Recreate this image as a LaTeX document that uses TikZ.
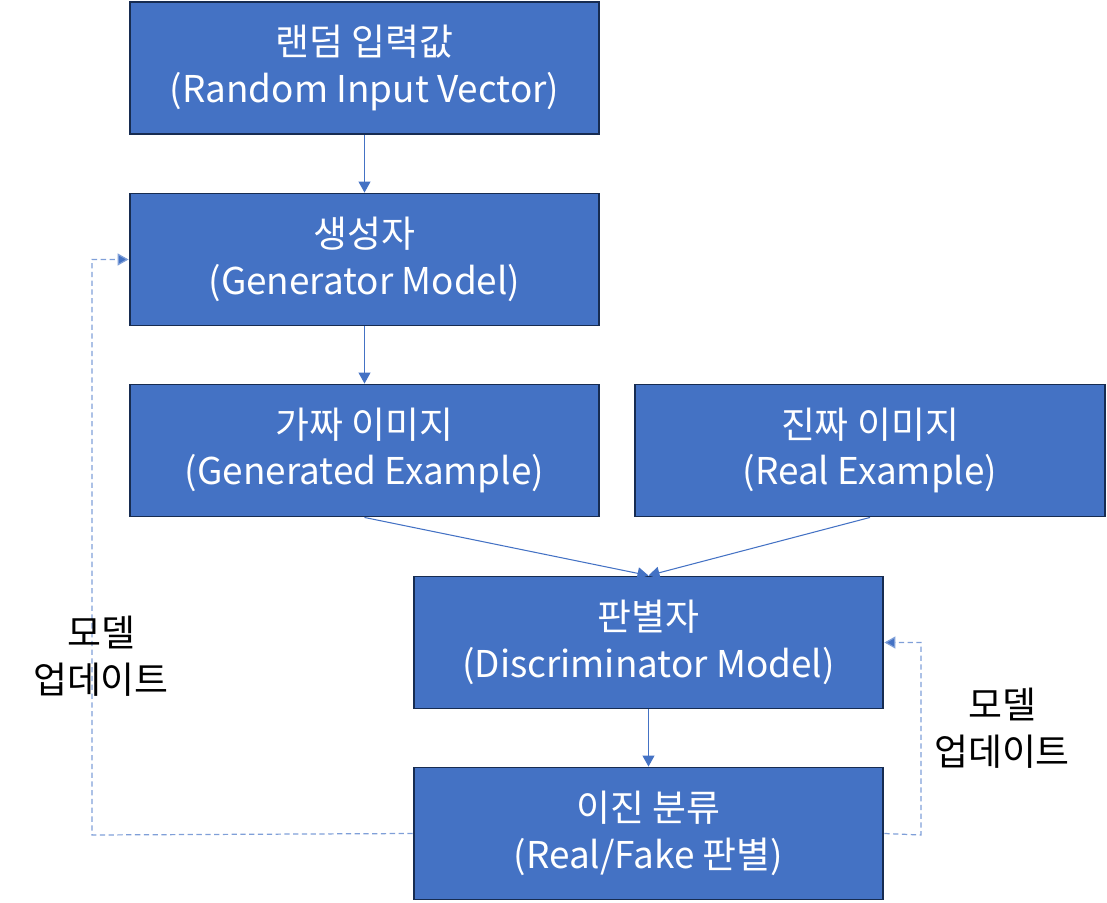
\documentclass[tikz,border=0pt]{standalone}
\usepackage{fontspec}
\setmainfont{Noto Sans CJK KR}
\usetikzlibrary{arrows.meta}
\definecolor{boxblue}{HTML}{4472C4}
\definecolor{boxline}{HTML}{172C51}
\definecolor{dashblue}{HTML}{7F9FD8}
\tikzset{
  stagebox/.style={rectangle, draw=boxline, line width=1.1pt, fill=boxblue,
    text=white, minimum width=9.4cm, minimum height=2.64cm, align=center,
    font=\fontsize{21}{26.5}\selectfont, inner sep=0pt},
  flow/.style={draw=boxblue, line width=0.6pt, -{Triangle[length=0.22cm, width=0.24cm]}},
  feedback/.style={draw=dashblue, line width=0.7pt, dash pattern=on 3pt off 2pt,
    -{Triangle[length=0.22cm, width=0.24cm, fill=boxblue]}},
  note/.style={align=center, font=\fontsize{21}{26.5}\selectfont, inner sep=0pt}
}
\begin{document}
\begin{tikzpicture}[x=0.02cm, y=-0.02cm]
  \useasboundingbox (0,0) rectangle (1107,903);

  % Boxes
  \node[stagebox] (input) at (364.5,68) {랜덤 입력값\\(Random Input Vector)};
  \node[stagebox] (gen) at (364.5,259.5) {생성자\\(Generator Model)};
  \node[stagebox] (fake) at (364.5,450.5) {가짜 이미지\\(Generated Example)};
  \node[stagebox] (real) at (870,450.5) {진짜 이미지\\(Real Example)};
  \node[stagebox] (disc) at (648.5,642.5) {판별자\\(Discriminator Model)};
  \node[stagebox] (out) at (648.5,833.5) {이진 분류\\(Real/Fake 판별)};

  % Main flow
  \draw[flow] (input) -- (gen);
  \draw[flow] (gen) -- (fake);
  \draw[flow] (fake.south) -- (disc.north);
  \draw[flow] (real.south) -- (disc.north);
  \draw[flow] (disc) -- (out);

  % Update loops
  \coordinate (leftturn) at (92,835);
  \coordinate (rightturn) at (921,835);
  \draw[feedback] (out.west) -- (leftturn) |- (gen.west);
  \draw[feedback] (out.east) -- (rightturn) |- (disc.east);

  \node[note] (leftnote) at (101,656) {모델\\업데이트};
  \node[note] (rightnote) at (1002,728) {모델\\업데이트};
\end{tikzpicture}
\end{document}
